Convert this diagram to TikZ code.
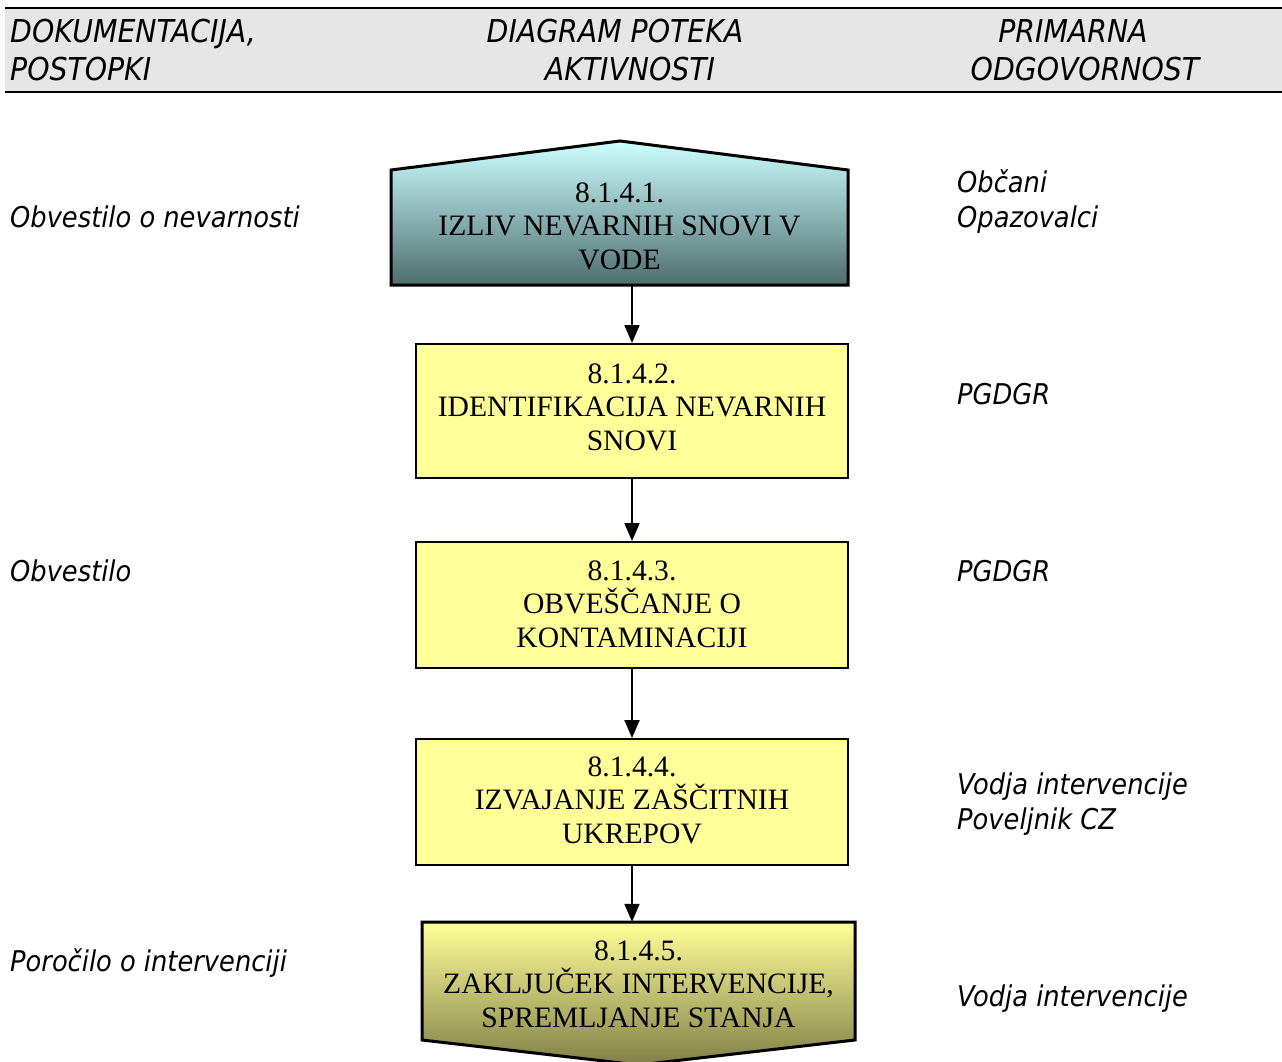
\documentclass[tikz,border=0pt]{standalone}
\usepackage{fontspec}
\setmainfont{Liberation Serif}
\newfontfamily\lblfont{DejaVu Sans Condensed}[ItalicFont={DejaVu Sans Condensed Oblique}]
\usetikzlibrary{arrows.meta}
\definecolor{hdrgray}{HTML}{E6E6E6}
\definecolor{boxyellow}{HTML}{FFFF99}
\definecolor{cyantop}{HTML}{CCFFFF}
\definecolor{slatebot}{HTML}{4F6D6D}
\definecolor{olivebot}{HTML}{808048}
\begin{document}
\begin{tikzpicture}[x=1pt,y=-1pt,
  lbl/.style={font=\lblfont\fontsize{28.6}{33}\selectfont\itshape, inner sep=0pt, anchor=base west},
  hdrl/.style={font=\lblfont\fontsize{31.5}{35}\selectfont\itshape, inner sep=0pt, anchor=base west},
  hdr/.style={font=\lblfont\fontsize{31.5}{35}\selectfont\itshape, inner sep=0pt, anchor=base},
  boxtext/.style={font=\fontsize{29.6}{33.5}\selectfont, align=center, inner sep=0pt},
  plainbox/.style={draw=black, line width=2pt, fill=boxyellow, rectangle, inner sep=0pt},
  arr/.style={line width=2pt, -{Triangle[length=18pt,width=15pt]}}
]
\useasboundingbox (0,0) rectangle (1282,1062);
% header
\fill[hdrgray] (5,8) rectangle (1282,92);
\draw[line width=2pt] (5,8) -- (1282,8);
\draw[line width=2pt] (5,92) -- (1282,92);
\node[hdrl] (h1a) at (10,43) {DOKUMENTACIJA,};
\node[hdrl] (h1b) at (10,81) {POSTOPKI};
\node[hdr] (h2a) at (615,43) {DIAGRAM POTEKA};
\node[hdr] (h2b) at (630,81) {AKTIVNOSTI};
\node[hdr] (h3a) at (1073,43) {PRIMARNA};
\node[hdr] (h3b) at (1085,81) {ODGOVORNOST};

% box 1 (pentagon, gradient)
\path[top color=cyantop, bottom color=slatebot] (391,170) -- (620,141) -- (848,170) -- (848,285) -- (391,285) -- cycle;
\draw[line width=3pt, line join=miter] (391,170) -- (620,141) -- (848,170) -- (848,285) -- (391,285) -- cycle;
\node[minimum width=457pt, minimum height=115pt, inner sep=0pt] (b1) at (619.5,227.5) {};
\node[boxtext] (t1) at (619.5,226) {8.1.4.1.\\IZLIV NEVARNIH SNOVI V\\VODE};

% boxes 2-4
\node[plainbox, minimum width=432pt, minimum height=134pt] (b2) at (632,411) {};
\node[boxtext] (t2) at (632,407) {8.1.4.2.\\IDENTIFIKACIJA NEVARNIH\\SNOVI};
\node[plainbox, minimum width=432pt, minimum height=126pt] (b3) at (632,605) {};
\node[boxtext] (t3) at (632,604) {8.1.4.3.\\OBVEŠČANJE O\\KONTAMINACIJI};
\node[plainbox, minimum width=432pt, minimum height=126pt] (b4) at (632,802) {};
\node[boxtext] (t4) at (632,800) {8.1.4.4.\\IZVAJANJE ZAŠČITNIH\\UKREPOV};

% box 5 (arrow-down pentagon, gradient)
\path[top color=boxyellow, bottom color=olivebot] (422,922) -- (855,922) -- (855,1040) -- (638.5,1065) -- (422,1040) -- cycle;
\draw[line width=3pt, line join=miter] (422,922) -- (855,922) -- (855,1040) -- (638.5,1065) -- (422,1040) -- cycle;
\node[minimum width=433pt, minimum height=118pt, inner sep=0pt] (b5) at (638.5,981) {};
\node[boxtext] (t5) at (638.5,984) {8.1.4.5.\\ZAKLJUČEK INTERVENCIJE,\\SPREMLJANJE STANJA};

% arrows
\draw[arr] (b1.south -| b2.north) -- (b2.north);
\draw[arr] (b2.south) -- (b3.north);
\draw[arr] (b3.south) -- (b4.north);
\draw[arr] (b4.south) -- (b4.south |- b5.north);

% left column
\node[lbl] (l1) at (10,227) {Obvestilo o nevarnosti};
\node[lbl] (l2) at (10,581) {Obvestilo};
\node[lbl] (l3) at (10,971) {Poročilo o intervenciji};

% right column
\node[lbl] (r1) at (957,192) {Občani};
\node[lbl] (r2) at (957,227) {Opazovalci};
\node[lbl] (r3) at (957,404) {PGDGR};
\node[lbl] (r4) at (957,581) {PGDGR};
\node[lbl] (r5) at (957,794) {Vodja intervencije};
\node[lbl] (r6) at (957,829) {Poveljnik CZ};
\node[lbl] (r7) at (957,1006) {Vodja intervencije};
\end{tikzpicture}
\end{document}
